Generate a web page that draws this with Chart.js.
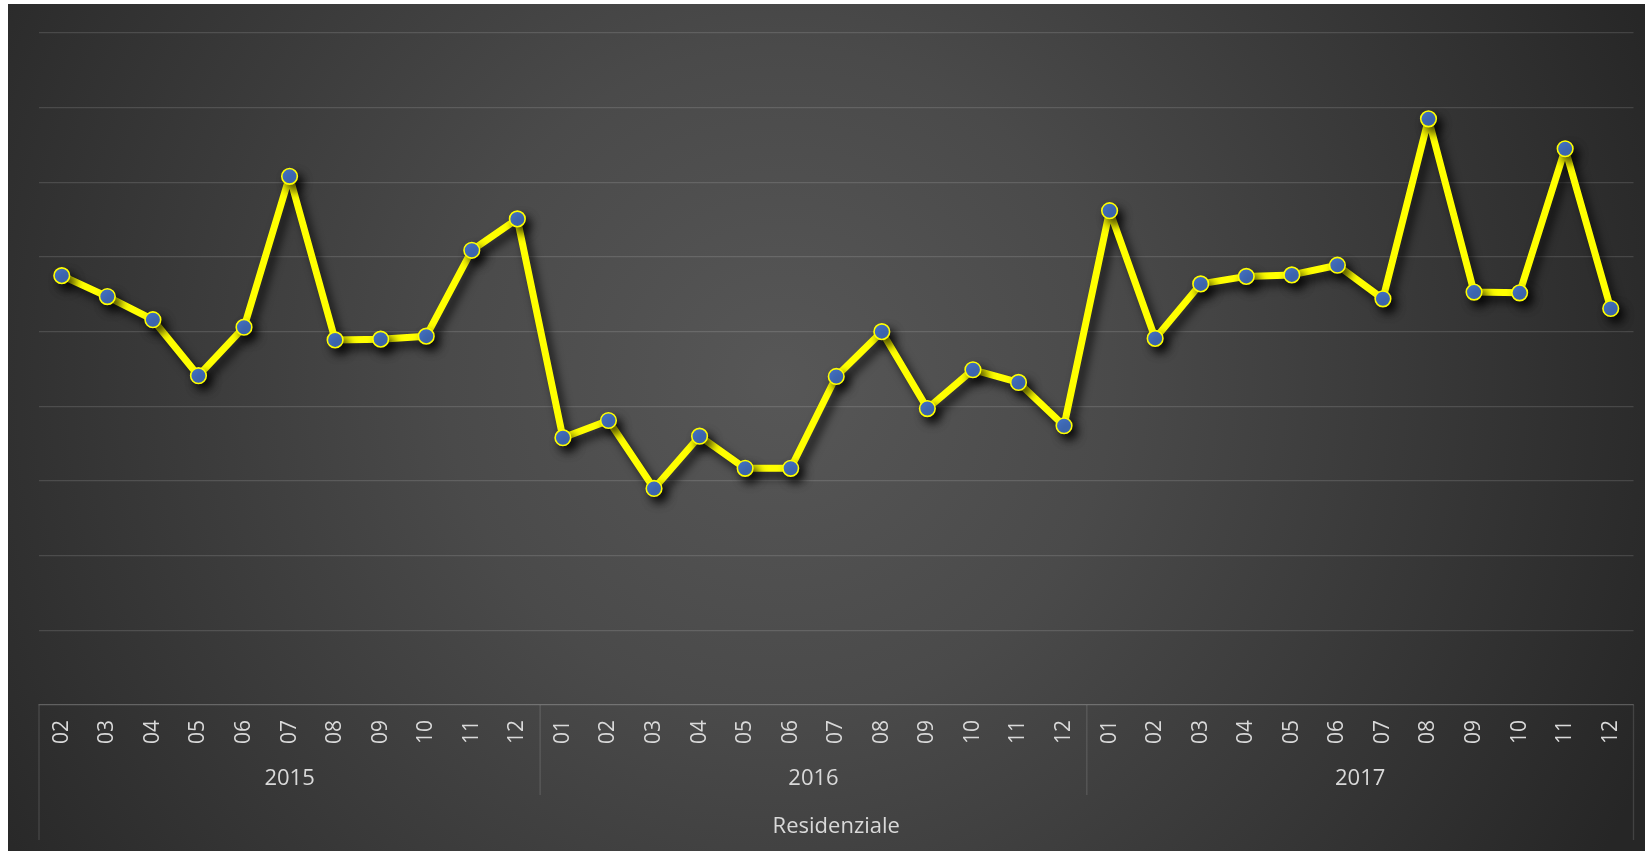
<!DOCTYPE html>
<html>
<head>
<meta charset="utf-8">
<script src="https://cdn.jsdelivr.net/npm/chart.js@4/dist/chart.umd.min.js"></script>
<style>
  html, body { margin: 0; padding: 0; background: #ffffff; }
  #wrap { width: 1645px; height: 851px; position: relative; }
</style>
</head>
<body>
<div id="wrap"><canvas id="c" width="1645" height="851"></canvas></div>
<script>
// ---- data ----
const monthLabels = [
  '02','03','04','05','06','07','08','09','10','11','12',
  '01','02','03','04','05','06','07','08','09','10','11','12',
  '01','02','03','04','05','06','07','08','09','10','11','12'
];
const years = ['2015', '2016', '2017'];
const monthsPerYear = [11, 12, 12];
const residenziale = [
  5.75, 5.47, 5.16, 4.41, 5.06, 7.08, 4.89, 4.90, 4.94, 6.09, 6.51,
  3.58, 3.81, 2.90, 3.60, 3.17, 3.17, 4.40, 5.00, 3.97, 4.49, 4.32, 3.74,
  6.62, 4.91, 5.64, 5.74, 5.76, 5.89, 5.44, 7.85, 5.53, 5.52, 7.45, 5.31
];
const axisTitle = 'Residenziale';

const FONT = "'Open Sans', 'Liberation Sans', sans-serif";
const TEXT = '#d9d9d9';
const LINE = 'rgba(255,255,255,0.13)';

const backgroundPlugin = {
  id: 'bg',
  beforeDraw(chart) {
    const ctx = chart.ctx;
    const W = chart.width, H = chart.height;
    ctx.save();
    ctx.fillStyle = '#ffffff';
    ctx.fillRect(0, 0, W, H);
    const g = ctx.createRadialGradient(780, 380, 0, 780, 380, 950);
    g.addColorStop(0, '#575757');
    g.addColorStop(0.35, '#4a4a4a');
    g.addColorStop(1, '#262626');
    ctx.fillStyle = g;
    ctx.fillRect(8, 4, W - 8, H - 4);
    ctx.restore();
  }
};

const shadowPlugin = {
  id: 'shadow',
  beforeDatasetDraw(chart) {
    const ctx = chart.ctx;
    ctx.save();
    ctx.shadowColor = 'rgba(0,0,0,0.75)';
    ctx.shadowBlur = 10;
    ctx.shadowOffsetX = 5;
    ctx.shadowOffsetY = 6;
  },
  afterDatasetDraw(chart) {
    chart.ctx.restore();
  }
};

const groupPlugin = {
  id: 'groups',
  afterDraw(chart) {
    const ctx = chart.ctx;
    const x = chart.scales.x;
    const top = x.top;
    ctx.save();
    ctx.strokeStyle = LINE;
    ctx.lineWidth = 1.3;
    [x.left, x.right].forEach(px => {
      ctx.beginPath();
      ctx.moveTo(px, top);
      ctx.lineTo(px, top + 135);
      ctx.stroke();
    });
    let start = 0;
    ctx.fillStyle = TEXT;
    ctx.font = '22px ' + FONT;
    ctx.textAlign = 'center';
    ctx.textBaseline = 'middle';
    years.forEach((yr, i) => {
      const end = start + monthsPerYear[i] - 1;
      const cx = (x.getPixelForValue(start) + x.getPixelForValue(end)) / 2;
      ctx.fillText(yr, cx, top + 74);
      if (i < years.length - 1) {
        const sep = (x.getPixelForValue(end) + x.getPixelForValue(end + 1)) / 2;
        ctx.beginPath();
        ctx.moveTo(sep, top);
        ctx.lineTo(sep, top + 90);
        ctx.stroke();
      }
      start = end + 1;
    });
    ctx.restore();
  }
};

new Chart(document.getElementById('c'), {
  type: 'line',
  data: {
    labels: monthLabels,
    datasets: [{
      label: axisTitle,
      data: residenziale,
      borderColor: '#ffff00',
      borderWidth: 7,
      borderJoinStyle: 'round',
      borderCapStyle: 'round',
      tension: 0,
      pointRadius: 7.8,
      pointHoverRadius: 7.8,
      pointBackgroundColor: '#4472c4',
      pointBorderColor: '#ffff00',
      pointBorderWidth: 1.6
    }]
  },
  options: {
    responsive: false,
    animation: false,
    devicePixelRatio: 1,
    layout: { padding: { left: 39, right: 11.5, top: 33, bottom: 0 } },
    plugins: { legend: { display: false }, tooltip: { enabled: false } },
    scales: {
      x: {
        type: 'category',
        offset: true,
        grid: { display: false, drawTicks: false },
        border: { display: true, color: LINE, width: 1.3 },
        ticks: {
          autoSkip: false,
          maxRotation: 90,
          minRotation: 90,
          padding: 15,
          color: TEXT,
          font: { family: FONT, size: 21 }
        },
        title: {
          display: true,
          text: axisTitle,
          color: TEXT,
          font: { family: FONT, size: 22 },
          padding: { top: 0, bottom: 11 }
        },
        afterFit(scale) {
          scale.height = 146;
          scale.paddingLeft = 0;
          scale.paddingRight = 0;
        }
      },
      y: {
        min: 0,
        max: 9,
        ticks: { display: false, stepSize: 1 },
        grid: { color: LINE, lineWidth: 1.3, drawTicks: false },
        border: { display: false },
        afterFit(scale) { scale.width = 0; }
      }
    }
  },
  plugins: [backgroundPlugin, shadowPlugin, groupPlugin]
});
</script>
</body>
</html>
